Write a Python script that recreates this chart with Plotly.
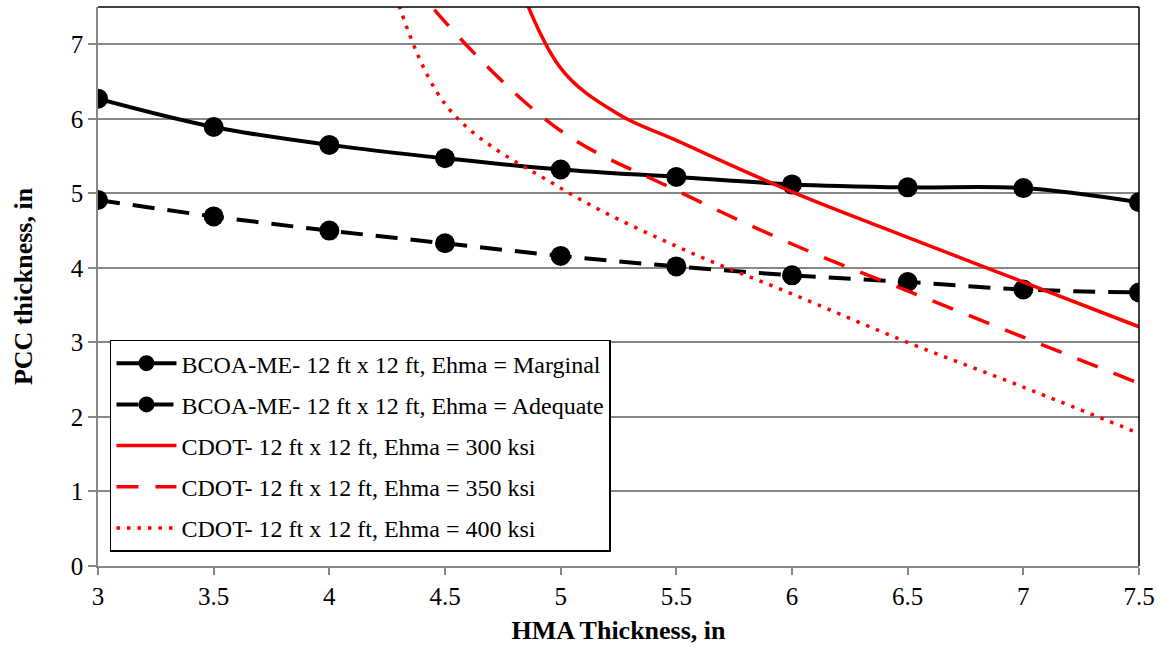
import plotly.graph_objects as go

# HMA thickness (in)
hma = [3.0, 3.5, 4.0, 4.5, 5.0, 5.5, 6.0, 6.5, 7.0, 7.5]
bcoa_marginal = [6.27, 5.89, 5.65, 5.47, 5.32, 5.22, 5.12, 5.08, 5.07, 4.88]
bcoa_adequate = [4.91, 4.69, 4.50, 4.33, 4.16, 4.02, 3.90, 3.81, 3.71, 3.67]

cdot300_x = [4.75, 5.0, 5.25, 5.5, 6.0, 6.5, 7.0, 7.5]
cdot300_y = [8.40, 6.68, 6.06, 5.71, 5.02, 4.41, 3.81, 3.21]

cdot350_x = [4.25, 4.5, 5.0, 5.5, 6.0, 6.5, 7.0, 7.5]
cdot350_y = [8.30, 7.30, 5.84, 5.04, 4.32, 3.69, 3.07, 2.45]

cdot400_x = [4.2, 4.5, 5.0, 5.5, 6.0, 6.5, 7.0, 7.5]
cdot400_y = [8.60, 6.20, 5.07, 4.29, 3.65, 3.00, 2.40, 1.78]

x_ticks = [3, 3.5, 4, 4.5, 5, 5.5, 6, 6.5, 7, 7.5]
x_tick_labels = ["3", "3.5", "4", "4.5", "5", "5.5", "6", "6.5", "7", "7.5"]
y_ticks = [0, 1, 2, 3, 4, 5, 6, 7]

names = [
    "BCOA-ME- 12 ft x 12 ft, Ehma = Marginal",
    "BCOA-ME- 12 ft x 12 ft, Ehma = Adequate",
    "CDOT- 12 ft x 12 ft, Ehma = 300 ksi",
    "CDOT- 12 ft x 12 ft, Ehma = 350 ksi",
    "CDOT- 12 ft x 12 ft, Ehma = 400 ksi",
]

font = "Liberation Serif, Times New Roman, serif"

fig = go.Figure()
fig.add_trace(go.Scatter(x=hma, y=bcoa_marginal, name=names[0], mode="lines+markers",
                         legendgroup="a",
                         line=dict(color="black", width=4, shape="spline"),
                         marker=dict(size=20, color="black")))
fig.add_trace(go.Scatter(x=hma, y=bcoa_adequate, name=names[1], mode="lines+markers",
                         legendgroup="b",
                         line=dict(color="black", width=4, shape="spline", dash="22px,13px"),
                         marker=dict(size=20, color="black")))
fig.add_trace(go.Scatter(x=cdot300_x, y=cdot300_y, name=names[2], mode="lines",
                         legendgroup="c",
                         line=dict(color="red", width=3.5, shape="spline")))
fig.add_trace(go.Scatter(x=cdot350_x, y=cdot350_y, name=names[3], mode="lines",
                         legendgroup="d",
                         line=dict(color="red", width=3.5, shape="spline", dash="22px,17px")))
fig.add_trace(go.Scatter(x=cdot400_x, y=cdot400_y, name=names[4], mode="lines",
                         legendgroup="e",
                         line=dict(color="red", width=3.5, shape="spline", dash="3.5px,7px")))

fig.update_layout(
    width=1162, height=650,
    margin=dict(l=98, r=21, t=7, b=84),
    paper_bgcolor="white", plot_bgcolor="white",
    font=dict(family=font, size=25, color="black"),
    showlegend=True,
    legend=dict(x=0.0115, y=0.405, xanchor="left", yanchor="top",
                bgcolor="white", bordercolor="black", borderwidth=1.5,
                font=dict(family=font, size=24, color="black"),
                itemwidth=60, tracegroupgap=7, traceorder="grouped"),
    xaxis=dict(range=[3, 7.5], tickvals=x_ticks, ticktext=x_tick_labels,
               showgrid=False, zeroline=False, showline=True, linecolor="#878787", linewidth=1.5,
               ticks="outside", ticklen=7, tickcolor="#878787", tickwidth=1.5,
               tickfont=dict(size=25),
               title=dict(text="<b>HMA Thickness, in</b>", font=dict(size=26), standoff=12)),
    yaxis=dict(range=[0, 7.5], tickvals=y_ticks,
               showgrid=True, gridcolor="#878787", gridwidth=1.5,
               zeroline=False, showline=True, linecolor="#878787", linewidth=1.5,
               ticks="outside", ticklen=8, tickcolor="#878787", tickwidth=1.5,
               tickfont=dict(size=25),
               title=dict(text="<b>PCC thickness, in</b>", font=dict(size=26), standoff=31)),
    shapes=[
        dict(type="line", xref="paper", yref="paper", x0=0, x1=1, y0=1, y1=1,
             line=dict(color="black", width=1.5)),
        dict(type="line", xref="paper", yref="paper", x0=1, x1=1, y0=0, y1=1,
             line=dict(color="black", width=1.5)),
    ],
)

fig.write_html("out.html", config={"displayModeBar": False},
               post_script="document.body.style.margin='0px';")
